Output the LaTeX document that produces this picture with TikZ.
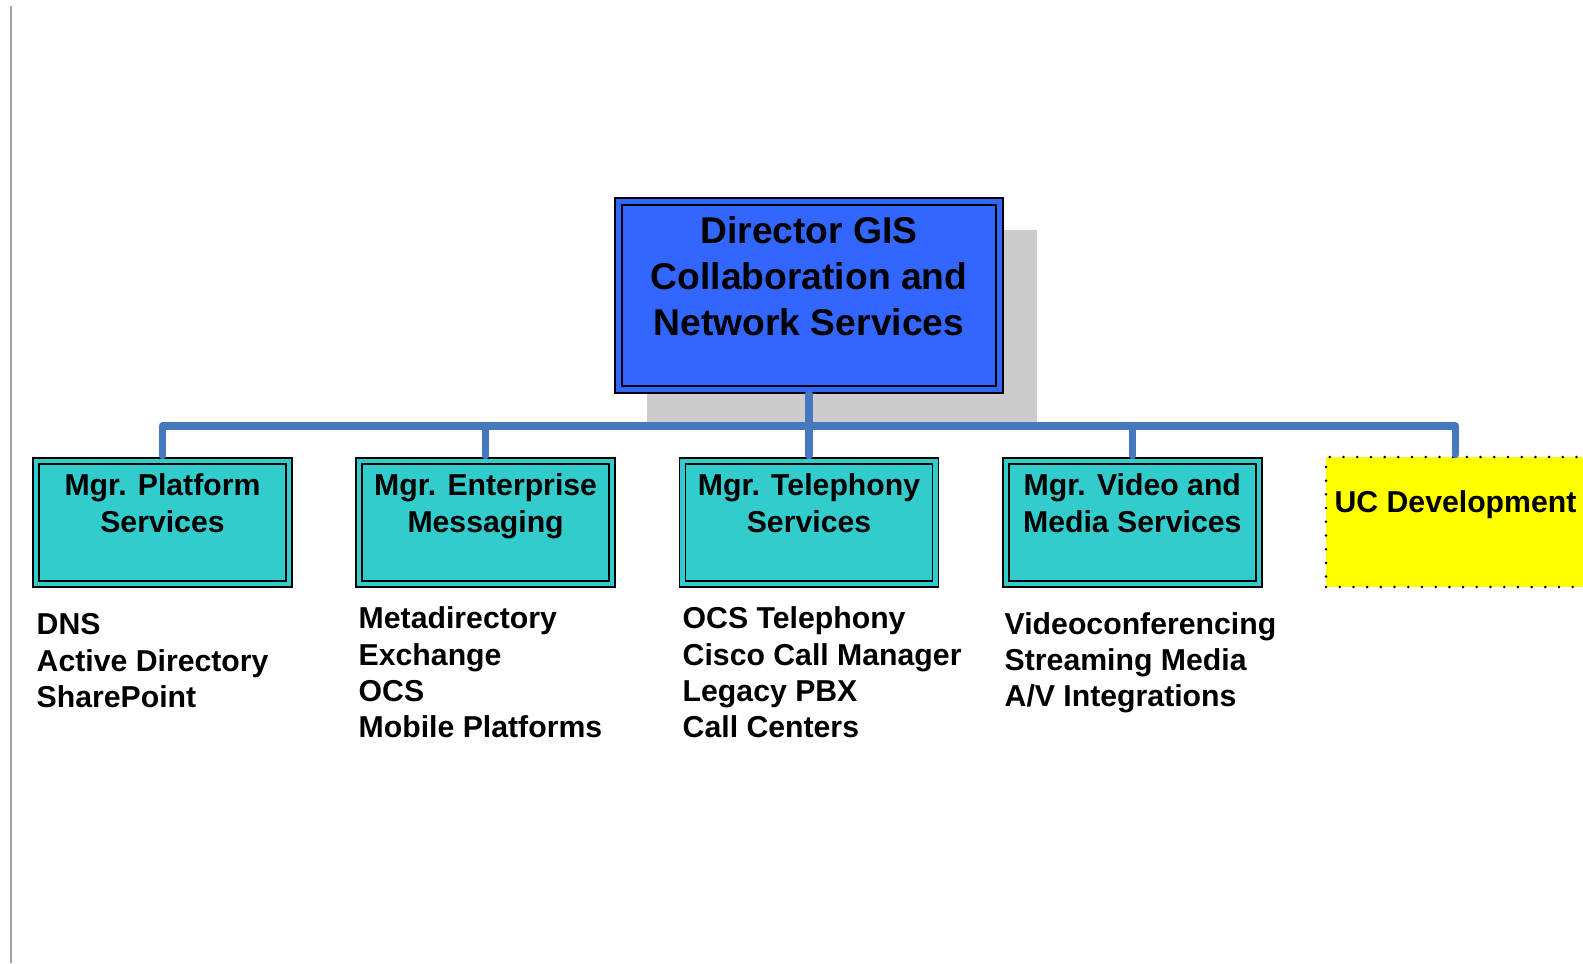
\documentclass[tikz,border=0pt]{standalone}
\usepackage{fontspec}
\setmainfont{Liberation Sans}
\usetikzlibrary{positioning}

\definecolor{dirblue}{RGB}{51,102,255}
\definecolor{mgrteal}{RGB}{51,204,204}
\definecolor{devyellow}{RGB}{255,255,0}
\definecolor{linkblue}{RGB}{70,120,192}
\definecolor{shadowgray}{RGB}{204,204,204}
\definecolor{rulegray}{RGB}{163,166,158}

\begin{document}
\begin{tikzpicture}[
    dirbox/.style={draw=black, fill=dirblue, double=dirblue, double distance=1.5pt,
        line width=0.55pt, minimum width=3.81cm, minimum height=1.88cm, inner sep=0pt},
    mgrbox/.style={draw=black, fill=mgrteal, double=mgrteal, double distance=1.2pt,
        line width=0.5pt, minimum width=2.53cm, minimum height=1.23cm, inner sep=0pt},
    devbox/.style={draw=black, fill=devyellow, line width=0.8pt, line cap=round,
        dash pattern=on 0pt off 3.9pt, minimum width=2.59cm, minimum height=1.30cm, inner sep=0pt},
    dirname/.style={font=\fontsize{10.6}{13}\selectfont\bfseries, align=center, inner sep=0pt},
    mgrname/.style={font=\fontsize{8.6}{10.4}\selectfont\bfseries, align=center, inner sep=0pt},
    duties/.style={font=\fontsize{8.6}{10.35}\selectfont\bfseries, align=left,
        inner sep=0pt, anchor=north west}
]
\useasboundingbox (0,0) rectangle (15.83,-9.63);

% page rule on the left
\draw[rulegray, line width=0.8pt] (0.11,-0.06) -- (0.11,-9.63);

% drop shadow of the director box
\fill[shadowgray] (6.465,-2.30) rectangle (10.37,-4.27);

\begin{scope}

    \node[dirbox] (dir) at (8.09,-2.955) {};
    \node[dirname, anchor=north] (dirT) at (8.09,-2.16)
        {Director GIS\\Collaboration and\\Network Services};

    \node[mgrbox] (plat) at (1.625,-5.225) {};
    \node[mgrbox] (ent)  at (4.856,-5.225) {};
    \node[mgrbox] (tel)  at (8.09,-5.225) {};
    \node[mgrbox] (vid)  at (11.323,-5.225) {};
    \node[devbox] (ucd)  at (14.555,-5.22) {};

    \node[mgrname, below=0.13cm of plat.north] (platT) {Mgr. Platform\\Services};
    \node[mgrname, below=0.13cm of ent.north]  (entT)  {Mgr. Enterprise\\Messaging};
    \node[mgrname, below=0.13cm of tel.north]  (telT)  {Mgr. Telephony\\Services};
    \node[mgrname, below=0.13cm of vid.north]  (vidT)  {Mgr. Video and\\Media Services};
    \node[mgrname, below=0.34cm of ucd.north]  (ucdT)  {UC Development};

    \node[duties] (platL) at (0.36,-6.13)
        {DNS\\Active Directory\\SharePoint};
    \node[duties] (entL) at (3.58,-6.06)
        {Metadirectory\\Exchange\\OCS\\Mobile Platforms};
    \node[duties] (telL) at (6.82,-6.06)
        {OCS Telephony\\Cisco Call Manager\\Legacy PBX\\Call Centers};
    \node[duties] (vidL) at (10.04,-6.115)
        {Videoconferencing\\Streaming Media\\A/V Integrations};

    \coordinate (bus) at (8.09,-4.26);

\end{scope}

\begin{scope} [every edge/.style={draw=linkblue, line width=2.1pt,
                                  line cap=round, line join=round}]

    \path (dir) edge[shorten <=1pt] (bus);
    \path (bus) edge[to path={-| (\tikztotarget)}, shorten >=1.3pt] (plat);
    \path (bus) edge[to path={-| (\tikztotarget)}, shorten >=1.3pt] (ent);
    \path (bus) edge[to path={-| (\tikztotarget)}, shorten >=1.3pt] (tel);
    \path (bus) edge[to path={-| (\tikztotarget)}, shorten >=1.3pt] (vid);
    \path (bus) edge[to path={-| (\tikztotarget)}, shorten >=0.3pt] (ucd);

\end{scope}

\end{tikzpicture}
\end{document}
